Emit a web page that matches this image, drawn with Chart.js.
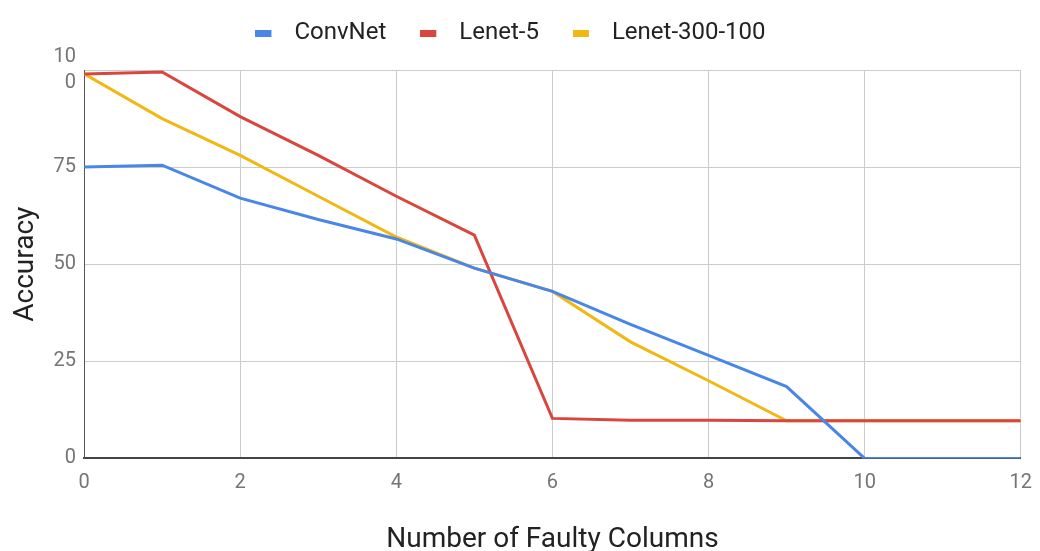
<!DOCTYPE html>
<html>
<head>
<meta charset="utf-8">
<script src="https://cdn.jsdelivr.net/npm/chart.js@4"></script>
<style>
  html, body { margin: 0; padding: 0; background: #fff; }
  #wrap { width: 1040px; height: 551px; }
</style>
</head>
<body>
<div id="wrap"><canvas id="accChart"></canvas></div>
<script>
const faultyColumns = [0, 1, 2, 3, 4, 5, 6, 7, 8, 9, 10, 11, 12];
const convNet = [75, 75.5, 67, 61.5, 56.5, 49, 43, 34.5, 26.5, 18.5, 0, 0, 0];
const lenet5 = [99, 99.5, 88, 78, 67.5, 57.5, 10.3, 9.8, 9.8, 9.7, 9.7, 9.7, 9.7];
const lenet300 = [99, 87.5, 78, 67.5, 57, 49, 43, 30, 20, 9.7, 9.7, 9.7, 9.7];
const seriesNames = ['ConvNet', 'Lenet-5', 'Lenet-300-100'];
const seriesColors = ['#4a86e8', '#d9463e', '#f1b813'];

function toPoints(vals) {
    return faultyColumns.map((x, i) => ({ x: x, y: vals[i] }));
}

// flat swatch on the left of a wider transparent canvas, so the text sits further away
function swatch(color) {
    const c = document.createElement('canvas');
    c.width = 27;
    c.height = 7;
    const g = c.getContext('2d');
    g.fillStyle = color;
    g.fillRect(0, 0, 16, 7);
    return c;
}
const swatches = seriesColors.map(swatch);

// legend keeps wide gaps between items but takes less height
const legendHeight = {
    id: 'legendHeight',
    beforeInit(chart) {
        const fit = chart.legend.fit;
        chart.legend.fit = function() {
            fit.bind(chart.legend)();
            this.height = 83;
        };
    }
};

Chart.defaults.font.family = 'Roboto';
Chart.defaults.color = '#757575';

const ctx = document.getElementById('accChart');
new Chart(ctx.getContext('2d'), {
    type: 'line',
    data: {
        datasets: [
            { label: seriesNames[0], data: toPoints(convNet), borderColor: seriesColors[0], backgroundColor: seriesColors[0] },
            { label: seriesNames[1], data: toPoints(lenet5), borderColor: seriesColors[1], backgroundColor: seriesColors[1] },
            { label: seriesNames[2], data: toPoints(lenet300), borderColor: seriesColors[2], backgroundColor: seriesColors[2] }
        ]
    },
    plugins: [legendHeight],
    options: {
        responsive: true,
        maintainAspectRatio: false,
        animation: false,
        elements: {
            line: { borderWidth: 3, tension: 0 },
            point: { radius: 0 }
        },
        layout: { padding: { left: 0, right: 19, top: -13, bottom: -6 } },
        plugins: {
            legend: {
                position: 'top',
                labels: {
                    usePointStyle: true,
                    pointStyleWidth: 27,
                    padding: 34,
                    color: '#222',
                    font: { size: 24 },
                    generateLabels(chart) {
                        const items = Chart.defaults.plugins.legend.labels.generateLabels(chart);
                        items.forEach((it, i) => { it.pointStyle = swatches[i]; });
                        return items;
                    }
                }
            },
            tooltip: { enabled: false }
        },
        scales: {
            x: {
                type: 'linear',
                min: 0,
                max: 12,
                ticks: { stepSize: 2, padding: 8, font: { size: 20, lineHeight: 1.7 } },
                grid: { color: '#cccccc', drawTicks: false },
                border: { color: '#444', width: 2 },
                title: { display: true, text: 'Number of Faulty Columns', color: '#222', font: { size: 28 }, padding: { top: 15, bottom: 0 } }
            },
            y: {
                min: 0,
                max: 100,
                ticks: {
                    stepSize: 25,
                    padding: 8,
                    font: { size: 20, lineHeight: 1.3 },
                    callback: v => v === 100 ? ['10', '0'] : v
                },
                grid: { color: '#cccccc', drawTicks: false },
                border: { color: '#555', width: 1 },
                title: { display: true, text: 'Accuracy', color: '#222', font: { size: 28 }, padding: { top: 9, bottom: 3 } }
            }
        }
    }
});
</script>
</body>
</html>
